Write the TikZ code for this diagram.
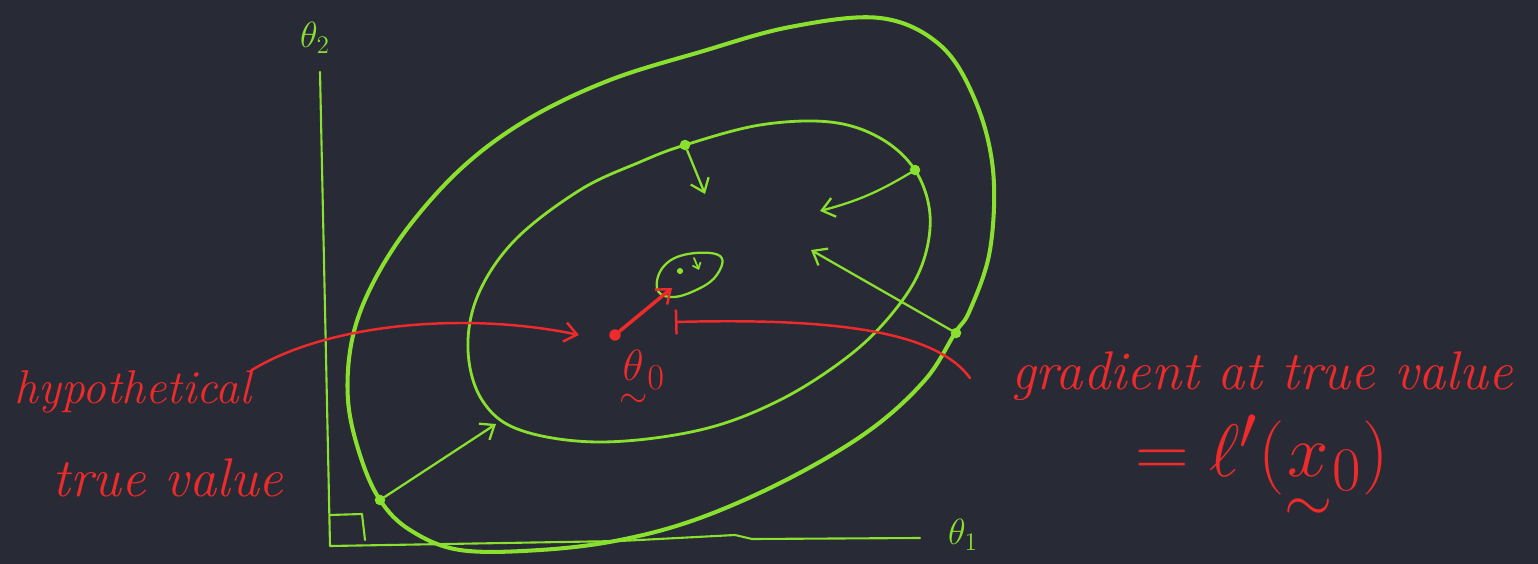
\documentclass[tikz,border=0pt]{standalone}
\usepackage{amsmath}
\usepackage{graphicx}
\usetikzlibrary{arrows.meta}
\definecolor{board}{RGB}{40,42,54}
\definecolor{chalkgreen}{RGB}{137,224,47}
\definecolor{chalkred}{RGB}{238,42,42}
\newcommand{\tildeunder}[1]{\mathord{\smash[b]{\underset{\sim}{#1}}}}
\tikzset{
  gdot/.style={circle, fill=chalkgreen, inner sep=0pt, minimum size=6pt},
  rdot/.style={circle, fill=chalkred, inner sep=0pt, minimum size=6.5pt},
  garrow/.style={chalkgreen, line width=1.3pt, -{Straight Barb[length=7pt, width=11pt, line width=1.3pt]}},
  rarrow/.style={chalkred, line width=1.4pt, -{Straight Barb[length=7pt, width=11pt, line width=1.4pt]}},
  redtext/.style={text=chalkred, font=\itshape\fontsize{27}{30}\selectfont, inner sep=0pt},
  axislabel/.style={text=chalkgreen, font=\fontsize{22}{24}\selectfont, inner sep=0pt}
}
\begin{document}
\begin{tikzpicture}[x=0.02cm, y=-0.02cm, line cap=round, line join=round]
			% Board and bounding box (pixel coordinates, y downwards)
			\def\wmax{1538} \def\hmax{564}
			\fill[board] (0,0) rectangle (\wmax,\hmax);
			\useasboundingbox (0,0) rectangle (\wmax,\hmax);
			
			% Coordinate axes with right angle mark
			\draw[chalkgreen, line width=1.2pt] (320,72) -- (330,546) -- (620,541) -- (735,535) -- (752,539) -- (920,538);
			\draw[chalkgreen, line width=1.2pt] (330,515) -- (362,514) -- (365,540);
			\node[axislabel] (th2) at (315,38) {$\theta_2$};
			\node[axislabel] (th1) at (963,535) {$\theta_1$};
			
			% Outer contour
			\draw[chalkgreen, line width=2.3pt] plot[smooth cycle, tension=0.6] coordinates {
				(880,18) (940,45) (975,100) (993,170) (990,250) (970,310) (955,333)
				(925,380) (870,430) (790,478) (700,518) (620,540) (540,550) (460,550)
				(410,530) (380,500) (360,455) (348,400) (352,340) (372,285) (410,225)
				(465,165) (530,118) (610,80) (700,52) (790,27)};
			
			% Inner contour
			\draw[chalkgreen, line width=1.6pt] plot[smooth cycle, tension=0.6] coordinates {
				(685,145) (760,125) (830,122) (880,138) (915,170) (930,215) (922,265)
				(895,310) (850,355) (780,400) (700,430) (600,442) (520,430) (482,400)
				(468,350) (478,295) (515,240) (580,190) (640,162)};
			
			% Small contour near the optimum
			\draw[chalkgreen, line width=1.3pt] plot[smooth cycle, tension=0.7] coordinates {
				(657,288) (664,266) (688,254) (720,256) (716,276) (694,291) (670,297)};
			\node[gdot, minimum size=3.5pt] (s1) at (680,271) {};
			\coordinate (s2) at (699,270);
			\draw[chalkgreen, line width=1pt, -{Straight Barb[length=3pt, width=5pt]}] (694,258) -- (s2);
			
			% Points on the contours and their steps
			\node[gdot] (p1) at (685,145) {};
			\node[gdot] (p2) at (915,170) {};
			\node[gdot] (p3) at (956,333) {};
			\node[gdot] (p4) at (380,500) {};
			\coordinate (q1) at (705,194);
			\coordinate (q2) at (820,211);
			\coordinate (q3) at (811,250);
			\coordinate (q4) at (496,424);
			\draw[garrow] (p1) -- (q1);
			\draw[garrow] (p2) to[bend left=8] (q2);
			\draw[garrow] (p3) -- (q3);
			\draw[garrow] (p4) -- (q4);
			
			% True value and gradient there
			\node[rdot] (truev) at (615,335) {};
			\coordinate (gtip) at (672,288);
			\draw[rarrow, line width=2pt] (truev) -- (gtip);
			\node[text=chalkred, font=\fontsize{24.88}{28}\selectfont, inner sep=0pt] (th0) at (642,370) {$\tildeunder{\theta}_0$};
			
			% Labels
			\node[redtext] (hypo) at (133,392) {hypothetical};
			\node[redtext, font=\itshape\fontsize{31}{34}\selectfont] (truevalue) at (168,478) {true value};
			\node[redtext, font=\itshape\fontsize{31}{34}\selectfont] (grad) at (1262,376) {gradient at true value};
			\node[redtext, font=\fontsize{24.88}{28}\selectfont] (lprime) at (1262,455) {\scalebox{1.7}{$= \ell'(\tildeunder{x}_0)$}};
			
			% Pointers from the labels
			\coordinate (gstart) at (970,378);
			\coordinate (gend) at (675,322);
			\draw[rarrow] (hypo.north east) .. controls (330,322) and (470,312) .. ([xshift=-0.6cm]truev.west);
			\draw[chalkred, line width=1.4pt, -{Bar[width=14pt, line width=1.4pt]}] (gstart) .. controls (935,330) and (830,318) .. (gend);
\end{tikzpicture}
\end{document}
